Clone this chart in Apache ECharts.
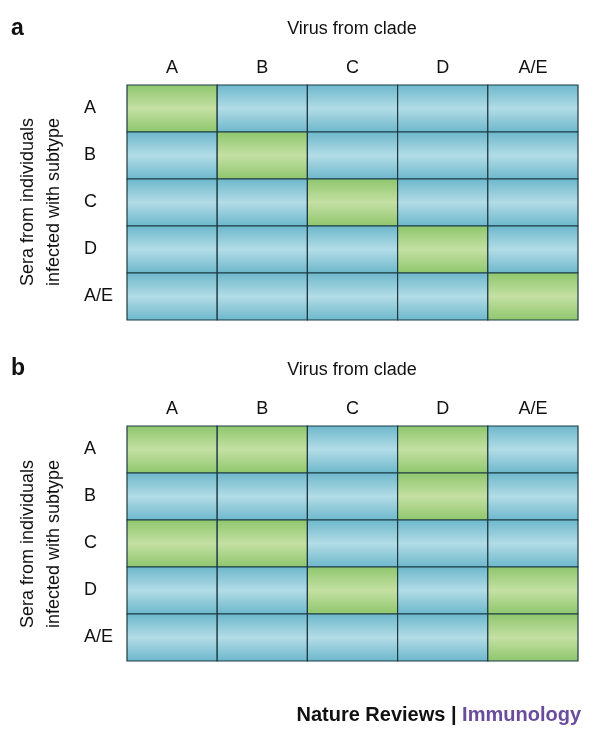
<!DOCTYPE html>
<html><head><meta charset="utf-8">
<script src="https://cdn.jsdelivr.net/npm/echarts@6/dist/echarts.min.js"></script>
<style>html,body{margin:0;padding:0;background:#fff}#c{width:600px;height:741px}</style>
</head><body><div id="c"></div>
<script>
var clades = ['A','B','C','D','A/E'];
var subtypes = ['A','B','C','D','A/E'];
// 1 = cross-reactive (green), 0 = not (blue); rows = sera subtype, cols = virus clade
var matrixA = [
  [1,0,0,0,0],
  [0,1,0,0,0],
  [0,0,1,0,0],
  [0,0,0,1,0],
  [0,0,0,0,1]
];
var matrixB = [
  [1,1,0,1,0],
  [0,0,0,1,0],
  [1,1,0,0,0],
  [0,0,1,0,1],
  [0,0,0,0,1]
];
function toData(m){var d=[];for(var r=0;r<m.length;r++)for(var c=0;c<m[r].length;c++)d.push([c,r,m[r][c]]);return d;}
var chart = echarts.init(document.getElementById('c'));
var font = 'Liberation Sans, Arial, sans-serif';
function grad(v){
  var e = v ? '#8ec66c' : '#6cb7cb', m = v ? '#c4e0a3' : '#b2dce6';
  return new echarts.graphic.LinearGradient(0,0,0,1,[{offset:0,color:e},{offset:0.5,color:m},{offset:1,color:e}]);
}
function renderItem(params, api){
  var p = api.coord([api.value(0), api.value(1)]);
  var s = api.size([1,1]);
  return {type:'rect', shape:{x:p[0]-s[0]/2, y:p[1]-s[1]/2, width:s[0], height:s[1]},
    style:{fill:grad(api.value(2)), stroke:'#1d3a44', lineWidth:1.2}};
}
function xAx(i){return {type:'category',gridIndex:i,position:'top',data:clades,axisLine:{show:false},axisTick:{show:false},
  axisLabel:{fontFamily:font,fontSize:18,color:'#111',margin:8}};}
function yAx(i){return {type:'category',gridIndex:i,inverse:true,data:subtypes,axisLine:{show:false},axisTick:{show:false},
  axisLabel:{fontFamily:font,fontSize:18,color:'#111',align:'left',margin:43}};}
chart.setOption({
  animation:false,
  grid:[{left:127,top:85,width:451,height:235},{left:127,top:426,width:451,height:235}],
  xAxis:[xAx(0),xAx(1)],
  yAxis:[yAx(0),yAx(1)],
  series:[
    {type:'custom',xAxisIndex:0,yAxisIndex:0,renderItem:renderItem,data:toData(matrixA)},
    {type:'custom',xAxisIndex:1,yAxisIndex:1,renderItem:renderItem,data:toData(matrixB)}
  ],
  graphic:[
    {type:'text',left:11,top:17,style:{text:'a',font:'900 23px '+font,fill:'#111'}},
    {type:'text',left:11,top:357,style:{text:'b',font:'900 23px '+font,fill:'#111'}},
    {type:'text',x:352,y:29,style:{text:'Virus from clade',font:'18px '+font,fill:'#111',align:'center',verticalAlign:'middle'}},
    {type:'text',x:352,y:370,style:{text:'Virus from clade',font:'18px '+font,fill:'#111',align:'center',verticalAlign:'middle'}},
    {type:'text',x:41,y:202,rotation:Math.PI/2,style:{text:'Sera from individuals\ninfected with subtype',font:'18px '+font,fill:'#111',align:'center',verticalAlign:'middle',lineHeight:26}},
    {type:'text',x:41,y:544,rotation:Math.PI/2,style:{text:'Sera from individuals\ninfected with subtype',font:'18px '+font,fill:'#111',align:'center',verticalAlign:'middle',lineHeight:26}},
    {type:'text',x:581,y:715,style:{rich:{n:{font:'bold 20px '+font,fill:'#111'},p:{font:'bold 20px '+font,fill:'#6a4c9c'}},text:'{n|Nature Reviews | }{p|Immunology}',align:'right',verticalAlign:'middle'}}
  ]
});
</script></body></html>
